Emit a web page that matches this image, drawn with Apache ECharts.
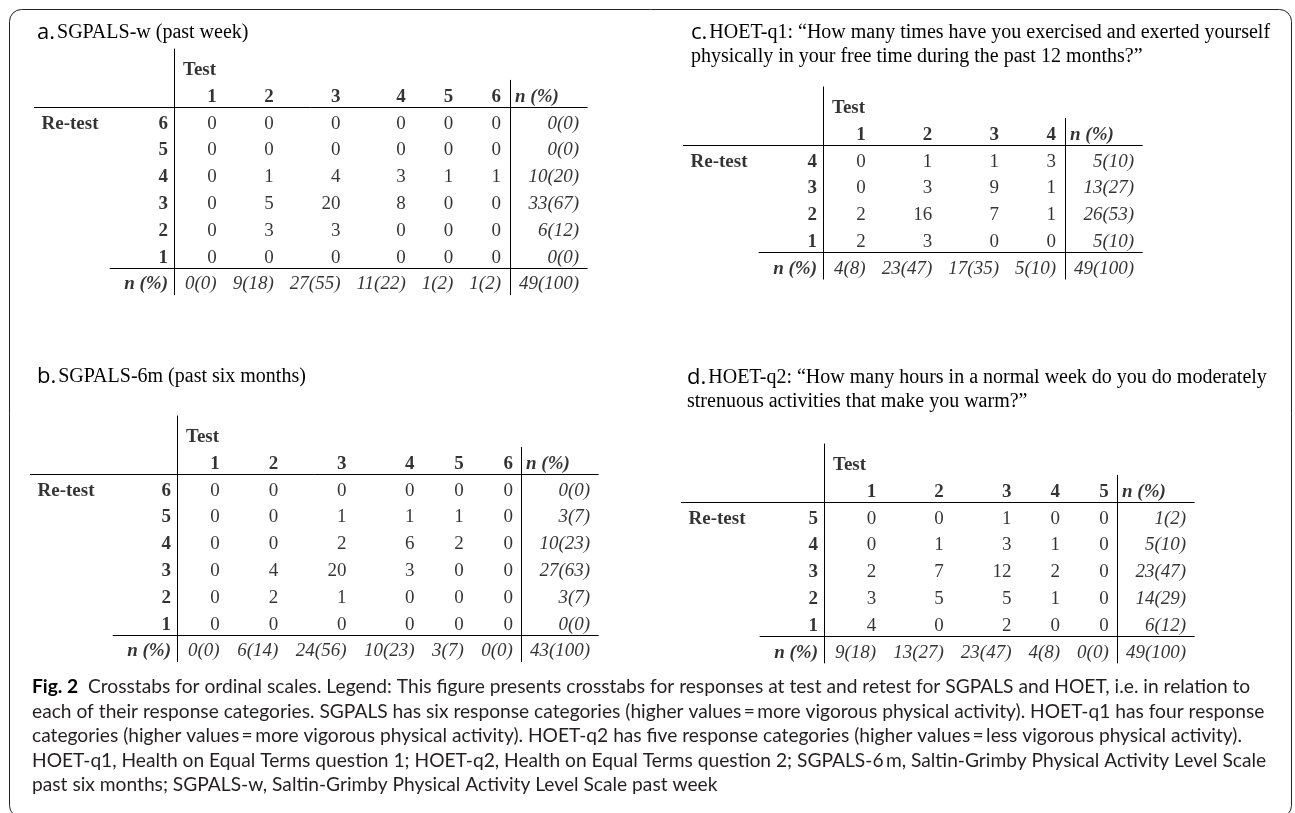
<!DOCTYPE html>
<html>
<head>
<meta charset="utf-8">
<script src="https://cdn.jsdelivr.net/npm/echarts@6/dist/echarts.min.js"></script>
<style>html,body{margin:0;padding:0;background:#fff}#chart{width:1295px;height:813px}</style>
</head>
<body>
<div id="chart"></div>
<script>
// ================= DATA =================
const aTitle = ['SGPALS-w (past week)'];
const aTestCats = ['1', '2', '3', '4', '5', '6'];
const aRetestCats = ['6', '5', '4', '3', '2', '1'];
const aCounts = [
  [0, 0, 0, 0, 0, 0],
  [0, 0, 0, 0, 0, 0],
  [0, 1, 4, 3, 1, 1],
  [0, 5, 20, 8, 0, 0],
  [0, 3, 3, 0, 0, 0],
  [0, 0, 0, 0, 0, 0]
];
const aRowTotals = ['0(0)', '0(0)', '10(20)', '33(67)', '6(12)', '0(0)'];
const aColTotals = ['0(0)', '9(18)', '27(55)', '11(22)', '1(2)', '1(2)'];
const aGrandTotal = '49(100)';

const bTitle = ['SGPALS-6m (past six months)'];
const bTestCats = ['1', '2', '3', '4', '5', '6'];
const bRetestCats = ['6', '5', '4', '3', '2', '1'];
const bCounts = [
  [0, 0, 0, 0, 0, 0],
  [0, 0, 1, 1, 1, 0],
  [0, 0, 2, 6, 2, 0],
  [0, 4, 20, 3, 0, 0],
  [0, 2, 1, 0, 0, 0],
  [0, 0, 0, 0, 0, 0]
];
const bRowTotals = ['0(0)', '3(7)', '10(23)', '27(63)', '3(7)', '0(0)'];
const bColTotals = ['0(0)', '6(14)', '24(56)', '10(23)', '3(7)', '0(0)'];
const bGrandTotal = '43(100)';

const cTitle = ['HOET-q1: \u201cHow many times have you exercised and exerted yourself',
                'physically in your free time during the past 12 months?\u201d'];
const cTestCats = ['1', '2', '3', '4'];
const cRetestCats = ['4', '3', '2', '1'];
const cCounts = [
  [0, 1, 1, 3],
  [0, 3, 9, 1],
  [2, 16, 7, 1],
  [2, 3, 0, 0]
];
const cRowTotals = ['5(10)', '13(27)', '26(53)', '5(10)'];
const cColTotals = ['4(8)', '23(47)', '17(35)', '5(10)'];
const cGrandTotal = '49(100)';

const dTitle = ['HOET-q2: \u201cHow many hours in a normal week do you do moderately',
                'strenuous activities that make you warm?\u201d'];
const dTestCats = ['1', '2', '3', '4', '5'];
const dRetestCats = ['5', '4', '3', '2', '1'];
const dCounts = [
  [0, 0, 1, 0, 0],
  [0, 1, 3, 1, 0],
  [2, 7, 12, 2, 0],
  [3, 5, 5, 1, 0],
  [4, 0, 2, 0, 0]
];
const dRowTotals = ['1(2)', '5(10)', '23(47)', '14(29)', '6(12)'];
const dColTotals = ['9(18)', '13(27)', '23(47)', '4(8)', '0(0)'];
const dGrandTotal = '49(100)';

const panelLetters = ['a.', 'b.', 'c.', 'd.'];
const headerTest = 'Test';
const headerRetest = 'Re-test';
const headerTotal = 'n (%)';

const captionLead = 'Fig. 2';
const captionLines = [
  'Crosstabs for ordinal scales. Legend: This figure presents crosstabs for responses at test and retest for SGPALS and HOET, i.e. in relation to',
  'each of their response categories. SGPALS has six response categories (higher values\u2009=\u2009more vigorous physical activity). HOET-q1 has four response',
  'categories (higher values\u2009=\u2009more vigorous physical activity). HOET-q2 has five response categories (higher values\u2009=\u2009less vigorous physical activity).',
  'HOET-q1, Health on Equal Terms question 1; HOET-q2, Health on Equal Terms question 2; SGPALS-6\u2009m, Saltin-Grimby Physical Activity Level Scale',
  'past six months; SGPALS-w, Saltin-Grimby Physical Activity Level Scale past week'
];

// ================= STYLE / LAYOUT =================
const SERIF = '"Liberation Serif", "Times New Roman", serif';
const SANS = '"Open Sans", "Noto Sans", sans-serif';
const CAP_FONT = 'Lato, Roboto, sans-serif';
const CAP_SIZE = 19.2;
const CELL = 19;
const TITLE_SIZE = 20;
const ROW_H = 26.8;
const FIRST_PAD = 11, GAP_V2 = 8, TOT_PAD = 9, END_PAD = 8;

const ctx = document.createElement('canvas').getContext('2d');
function tw(text, size, family, weight, style) {
  ctx.font = (style || 'normal') + ' ' + (weight || 'normal') + ' ' + size + 'px ' + family;
  return ctx.measureText(text).width;
}

const tables = [
  {title: aTitle, test: aTestCats, retest: aRetestCats, counts: aCounts, rowT: aRowTotals, colT: aColTotals, grand: aGrandTotal,
   left: 34, testY: 70, v1: 140.5, colPad: 16, titleX: 37, titleY: 33},
  {title: bTitle, test: bTestCats, retest: bRetestCats, counts: bCounts, rowT: bRowTotals, colT: bColTotals, grand: bGrandTotal,
   left: 30, testY: 437, v1: 147.5, colPad: 17.5, titleX: 37, titleY: 377},
  {title: cTitle, test: cTestCats, retest: cRetestCats, counts: cCounts, rowT: cRowTotals, colT: cColTotals, grand: cGrandTotal,
   left: 683, testY: 108, v1: 140.5, colPad: 16, titleX: 691, titleY: 33},
  {title: dTitle, test: dTestCats, retest: dRetestCats, counts: dCounts, rowT: dRowTotals, colT: dColTotals, grand: dGrandTotal,
   left: 681, testY: 465, v1: 143.5, colPad: 17, titleX: 687, titleY: 378}
];

const grids = [], xAxes = [], yAxes = [], series = [], titles = [];

function lab(text, pos, weight, style) {
  return {show: true, formatter: text, position: pos, distance: 0, fontFamily: SERIF, fontSize: CELL,
          fontWeight: weight, fontStyle: style, color: '#000'};
}

tables.forEach(function (t, k) {
  const nR = t.retest.length;
  const last = nR + 2;
  const V1 = t.v1;
  const rights = [];
  let x = V1;
  t.test.forEach(function (c, j) {
    let w = tw(c, CELL, SERIF, 'bold');
    t.counts.forEach(function (r) { w = Math.max(w, tw(String(r[j]), CELL, SERIF)); });
    w = Math.max(w, tw(t.colT[j], CELL, SERIF, 'normal', 'italic'));
    x += w + (j === 0 ? FIRST_PAD : t.colPad);
    rights.push(x);
  });
  const v2 = Math.round(x + GAP_V2) + 0.5;
  let totW = tw(t.grand, CELL, SERIF, 'normal', 'italic');
  t.rowT.forEach(function (s) { totW = Math.max(totW, tw(s, CELL, SERIF, 'normal', 'italic')); });
  const totRight = v2 + TOT_PAD + totW;
  const W = totRight + END_PAD;
  const labelRight = V1 - 6;
  const footStart = labelRight - tw(headerTotal, CELL, SERIF, 'bold', 'italic') - 15;

  grids.push({left: t.left, top: t.testY - ROW_H, width: W, height: (last + 2) * ROW_H});
  xAxes.push({type: 'value', gridIndex: k, min: 0, max: W, show: false});
  yAxes.push({type: 'value', gridIndex: k, min: -1, max: last + 1, inverse: true, show: false});

  const items = [];
  items.push({value: [V1 + 8, 0], label: lab(headerTest, 'right', 'bold', 'normal')});
  t.test.forEach(function (c, j) { items.push({value: [rights[j], 1], label: lab(c, 'left', 'bold', 'normal')}); });
  items.push({value: [v2 + 4, 1], label: lab(headerTotal, 'right', 'bold', 'italic')});
  items.push({value: [7, 2], label: lab(headerRetest, 'right', 'bold', 'normal')});
  t.retest.forEach(function (r, i) {
    items.push({value: [labelRight, i + 2], label: lab(r, 'left', 'bold', 'normal')});
    t.counts[i].forEach(function (v, j) {
      items.push({value: [rights[j], i + 2], label: lab(String(v), 'left', 'normal', 'normal')});
    });
    items.push({value: [totRight, i + 2], label: lab(t.rowT[i], 'left', 'normal', 'italic')});
  });
  items.push({value: [labelRight, last], label: lab(headerTotal, 'left', 'bold', 'italic')});
  t.colT.forEach(function (s, j) { items.push({value: [rights[j], last], label: lab(s, 'left', 'normal', 'italic')}); });
  items.push({value: [totRight, last], label: lab(t.grand, 'left', 'normal', 'italic')});

  series.push({
    type: 'scatter', xAxisIndex: k, yAxisIndex: k, symbolSize: 1, silent: true, animation: false,
    itemStyle: {color: 'rgba(0,0,0,0)'}, data: items, labelLayout: {hideOverlap: false}
  });
  series.push({
    type: 'lines', coordinateSystem: 'cartesian2d', xAxisIndex: k, yAxisIndex: k, silent: true, animation: false,
    lineStyle: {color: '#000', width: 1, opacity: 1, curveness: 0},
    data: [
      {coords: [[V1, -0.8], [V1, last + 0.4]]},
      {coords: [[v2, 0.37], [v2, last + 0.4]]},
      {coords: [[0, 1.4], [W, 1.4]]},
      {coords: [[footStart, last - 0.6], [W, last - 0.6]]}
    ]
  });

  const lines = t.title.map(function (s, i) { return (i === 0 ? '{l|' + panelLetters[k] + '}' : '') + '{t|' + s + '}'; });
  titles.push({
    left: t.titleX, top: t.titleY - 12, padding: 0, text: lines.join('\n'),
    textStyle: {fontWeight: 'normal', rich: {
      l: {fontFamily: SANS, fontSize: 22, fontWeight: 'normal', color: '#000', lineHeight: 24, padding: [0, 2, 0, 0]},
      t: {fontFamily: SERIF, fontSize: TITLE_SIZE, fontWeight: 'normal', color: '#000', lineHeight: 24}
    }}
  });
});

// caption
const capLH = 24.5;
titles.push({
  left: 32, top: 687 - capLH / 2, padding: 0,
  text: captionLines.map(function (s, i) {
    return (i === 0 ? '{b|' + captionLead + '}{r|  ' : '{r|') + s + '}';
  }).join('\n'),
  textStyle: {fontWeight: 'normal', rich: {
    b: {fontFamily: CAP_FONT, fontSize: CAP_SIZE, fontWeight: 'bold', color: '#000', lineHeight: capLH},
    r: {fontFamily: CAP_FONT, fontSize: CAP_SIZE, fontWeight: 'normal', color: '#231f20', lineHeight: capLH}
  }}
});

const chart = echarts.init(document.getElementById('chart'), null, {renderer: 'canvas'});
chart.setOption({
  animation: false,
  backgroundColor: '#fff',
  title: titles,
  grid: grids,
  xAxis: xAxes,
  yAxis: yAxes,
  series: series,
  graphic: [{
    type: 'rect', silent: true, z: -10,
    shape: {x: 9.5, y: 9.5, width: 1282, height: 808, r: 12},
    style: {fill: 'none', stroke: '#222', lineWidth: 1}
  }]
});
</script>
</body>
</html>
